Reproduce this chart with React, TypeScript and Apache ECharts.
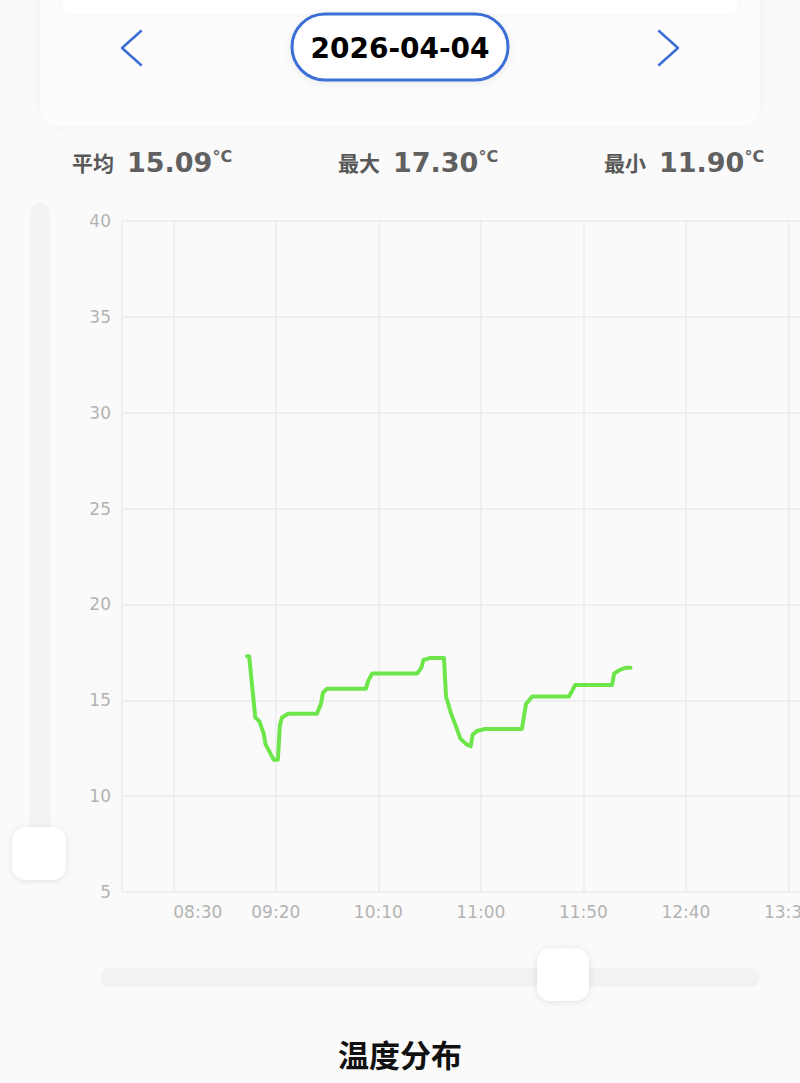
import React, { useEffect, useRef } from "react";
import * as echarts from "echarts";

// ---- data ----
const dateLabel = "2026-04-04";
const statLabels = ["平均", "最大", "最小"];
const statValues = ["15.09", "17.30", "11.90"];
const statUnit = "°C";
const chartTitle = "温度分布";

// sample times in minutes since midnight
const sampleMinutes = [
  546, 547, 550, 552, 554, 555, 558, 559, 561, 562, 563, 566, 580, 582, 583, 585,
  604, 605, 607, 629, 631, 632, 635, 642, 643, 645.5, 648, 650, 653, 655, 656, 658,
  662, 680, 682, 685, 703, 706, 724, 725, 728, 731, 733,
];
// temperature in °C
const temperatures = [
  17.3, 17.3, 14.1, 13.9, 13.3, 12.7, 12.1, 11.9, 11.9, 13.7, 14.1, 14.3, 14.3, 14.8, 15.4, 15.6,
  15.6, 16.0, 16.4, 16.4, 16.7, 17.1, 17.2, 17.2, 15.2, 14.3, 13.6, 13.0, 12.7, 12.6, 13.2, 13.4,
  13.5, 13.5, 14.8, 15.2, 15.2, 15.8, 15.8, 16.4, 16.6, 16.7, 16.7,
];
const xTickLabels = ["08:30", "09:20", "10:10", "11:00", "11:50", "12:40", "13:30"];
const xRange = ["08:05", "14:00"];
const yRange = [5, 40];
const yStep = 5;

const toMin = (s: string) => {
  const [h, m] = s.split(":").map(Number);
  return h * 60 + m;
};
const fmt = (v: number) => {
  const h = Math.floor(v / 60);
  const m = Math.round(v - h * 60);
  return String(h).padStart(2, "0") + ":" + String(m).padStart(2, "0");
};

export default function App() {
  const ref = useRef<HTMLDivElement>(null);
  useEffect(() => {
    if (!ref.current) return;
    const chart = echarts.init(ref.current, null, { renderer: "svg" });
    const tickVals = xTickLabels.map(toMin);
    const firstTick = tickVals[0];
    const seriesData = sampleMinutes.map((t, i) => [t, temperatures[i]]);
    const statX = [72, 338, 604];

    const graphics: any[] = [
      // top card
      {
        type: "rect",
        shape: { x: 40, y: -20, width: 720, height: 146, r: 18 },
        style: { fill: "#fcfcfc", shadowBlur: 12, shadowColor: "rgba(0,0,0,0.03)" },
        z: 0,
      },
      {
        type: "rect",
        shape: { x: 62, y: -10, width: 676, height: 24, r: 8 },
        style: { fill: "#ffffff", shadowBlur: 4, shadowColor: "rgba(0,0,0,0.03)" },
        z: 1,
      },
      // date pill
      {
        type: "rect",
        shape: { x: 292, y: 14, width: 216, height: 66, r: 33 },
        style: {
          fill: "#ffffff",
          stroke: "#3c6fd6",
          lineWidth: 3,
          shadowBlur: 8,
          shadowColor: "rgba(0,0,0,0.08)",
          shadowOffsetY: 2,
        },
        z: 2,
      },
      {
        type: "text",
        x: 400,
        y: 48,
        style: {
          text: dateLabel,
          fill: "#000000",
          fontSize: 28,
          fontWeight: "bold",
          fontFamily: "DejaVu Sans",
          align: "center",
          verticalAlign: "middle",
        },
        z: 3,
      },
      // arrows
      {
        type: "polyline",
        shape: { points: [[141, 31], [122, 48], [141, 65]] },
        style: { stroke: "#3c6fd6", lineWidth: 2.5, fill: "none", lineCap: "round", lineJoin: "round" },
        z: 2,
      },
      {
        type: "polyline",
        shape: { points: [[659, 31], [678, 48], [659, 65]] },
        style: { stroke: "#3c6fd6", lineWidth: 2.5, fill: "none", lineCap: "round", lineJoin: "round" },
        z: 2,
      },
      // stats
      ...statLabels.map((lab, i) => ({
        type: "text",
        x: statX[i],
        y: 162,
        style: {
          text: `{l|${lab}}{n|${statValues[i]}}{u|${statUnit}}`,
          verticalAlign: "middle",
          align: "left",
          rich: {
            l: {
              fontSize: 21,
              fontWeight: "bold",
              fontFamily: "Noto Sans CJK SC",
              fill: "#585858",
              padding: [0, 13, 0, 0],
            },
            n: {
              fontSize: 27,
              fontWeight: "bold",
              fontFamily: "DejaVu Sans",
              fill: "#606060",
            },
            u: {
              fontSize: 16,
              fontWeight: "bold",
              fontFamily: "DejaVu Sans",
              fill: "#606060",
              verticalAlign: "top",
            },
          },
        },
        z: 2,
      })),
      // vertical slider
      {
        type: "rect",
        shape: { x: 30, y: 202, width: 20, height: 660, r: 10 },
        style: { fill: "#f3f3f3" },
        z: 0,
      },
      {
        type: "rect",
        shape: { x: 12, y: 827, width: 54, height: 53, r: 14 },
        style: { fill: "#ffffff", shadowBlur: 6, shadowColor: "rgba(0,0,0,0.10)", shadowOffsetY: 1 },
        z: 1,
      },
      // horizontal slider
      {
        type: "rect",
        shape: { x: 100, y: 968, width: 660, height: 19, r: 9.5 },
        style: { fill: "#f2f2f2" },
        z: 0,
      },
      {
        type: "rect",
        shape: { x: 537, y: 948, width: 52, height: 53, r: 14 },
        style: { fill: "#ffffff", shadowBlur: 6, shadowColor: "rgba(0,0,0,0.10)", shadowOffsetY: 1 },
        z: 1,
      },
      // title
      {
        type: "text",
        x: 400,
        y: 1053,
        style: {
          text: chartTitle,
          fill: "#111111",
          fontSize: 31,
          fontWeight: "bold",
          fontFamily: "Noto Sans CJK SC",
          align: "center",
          verticalAlign: "middle",
        },
        z: 2,
      },
    ];

    chart.setOption({
      animation: false,
      backgroundColor: "#fafafa",
      grid: { left: 122, top: 221, bottom: 191, width: 728, containLabel: false },
      xAxis: {
        type: "value",
        min: toMin(xRange[0]),
        max: toMin(xRange[1]),
        axisLine: { show: false },
        axisTick: { show: false, customValues: tickVals },
        axisLabel: {
          customValues: tickVals,
          color: "#b3b3b3",
          fontSize: 17,
          fontFamily: "DejaVu Sans",
          margin: 11,
          formatter: (v: number) => (v === firstTick ? `{f|${fmt(v)}}` : fmt(v)),
          rich: {
            f: { color: "#b3b3b3", fontSize: 17, fontFamily: "DejaVu Sans", padding: [0, 0, 0, 49] },
          },
        },
        splitLine: { show: true, lineStyle: { color: "#ebebeb", width: 1.5 } },
      },
      yAxis: {
        type: "value",
        min: yRange[0],
        max: yRange[1],
        interval: yStep,
        axisLine: { show: true, lineStyle: { color: "#ebebeb", width: 1.5 } },
        axisTick: { show: false },
        axisLabel: { color: "#b3b3b3", fontSize: 17, fontFamily: "DejaVu Sans", margin: 11 },
        splitLine: { show: true, lineStyle: { color: "#ebebeb", width: 1.5 } },
      },
      graphic: graphics,
      series: [
        {
          type: "line",
          data: seriesData,
          showSymbol: false,
          symbol: "none",
          lineStyle: { color: "#6ee64b", width: 4, cap: "round", join: "round" },
          z: 5,
        },
      ],
    });
    return () => chart.dispose();
  }, []);
  return (
    <div style={{ position: "fixed", left: 0, top: 0, width: 800, height: 1083, overflow: "hidden" }}>
      <div ref={ref} style={{ width: 860, height: 1083 }} />
    </div>
  );
}
